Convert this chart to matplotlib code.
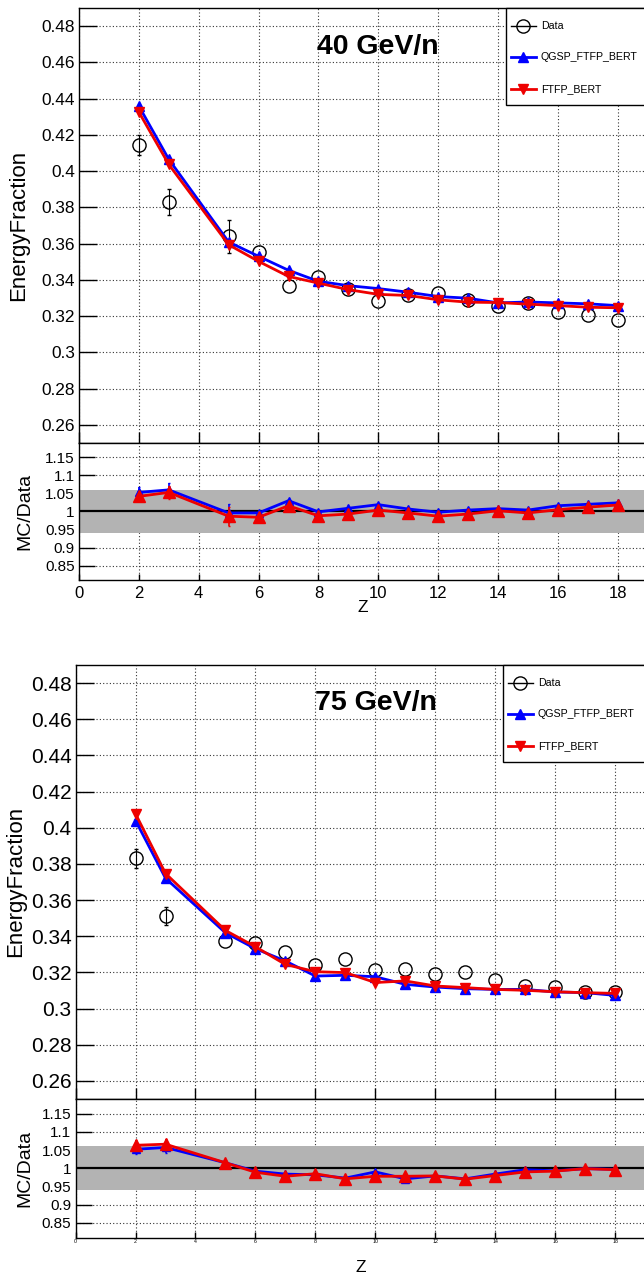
import matplotlib
matplotlib.use('Agg')
import matplotlib.pyplot as plt
from matplotlib.patches import Rectangle
import numpy as np

plt.rcParams['font.family'] = ['Liberation Sans', 'DejaVu Sans']

# ---------------- data ----------------
Z = [2, 3, 5, 6, 7, 8, 9, 10, 11, 12, 13, 14, 15, 16, 17, 18]

# 40 GeV/n
data40 = [0.4142, 0.3830, 0.3641, 0.3553, 0.3364, 0.3416, 0.3352, 0.3286, 0.3316,
          0.3326, 0.3288, 0.3255, 0.3270, 0.3225, 0.3207, 0.3181]
data40_err = [0.0055, 0.0070, 0.0092, 0.0, 0.0, 0.0, 0.0, 0.0, 0.0,
              0.0, 0.0, 0.0, 0.0, 0.0, 0.0, 0.0]
qgsp40 = [0.4359, 0.4065, 0.3609, 0.3530, 0.3453, 0.3392, 0.3368, 0.3352, 0.3332,
          0.3308, 0.3299, 0.3273, 0.3278, 0.3273, 0.3268, 0.3258]
ftfp40 = [0.4326, 0.4037, 0.3594, 0.3502, 0.3419, 0.3382, 0.3346, 0.3320, 0.3314,
          0.3290, 0.3277, 0.3275, 0.3266, 0.3258, 0.3249, 0.3246]
rq40 = [1.053, 1.060, 0.996, 0.996, 1.030, 0.999, 1.009, 1.019, 1.007,
        0.998, 1.004, 1.008, 1.004, 1.016, 1.020, 1.024]
rf40 = [1.042, 1.053, 0.987, 0.984, 1.016, 0.988, 0.993, 1.004, 0.996,
        0.987, 0.993, 1.002, 0.996, 1.005, 1.012, 1.018]
rerr40 = [0.014, 0.018, 0.026, 0.005, 0.005, 0.005, 0.005, 0.005, 0.005,
          0.005, 0.005, 0.005, 0.005, 0.005, 0.005, 0.005]

# 75 GeV/n
data75 = [0.3830, 0.3511, 0.3375, 0.3365, 0.3313, 0.3239, 0.3276, 0.3211, 0.3217,
          0.3189, 0.3202, 0.3158, 0.3125, 0.3119, 0.3092, 0.3092]
data75_err = [0.0050, 0.0050, 0.0, 0.0, 0.0, 0.0, 0.0, 0.0, 0.0,
              0.0, 0.0, 0.0, 0.0, 0.0, 0.0, 0.0]
qgsp75 = [0.4040, 0.3721, 0.3419, 0.3331, 0.3263, 0.3180, 0.3184, 0.3176, 0.3134,
          0.3119, 0.3110, 0.3106, 0.3106, 0.3092, 0.3088, 0.3073]
ftfp75 = [0.4077, 0.3747, 0.3432, 0.3342, 0.3244, 0.3204, 0.3199, 0.3144, 0.3153,
          0.3125, 0.3116, 0.3106, 0.3101, 0.3093, 0.3088, 0.3084]
rq75 = [1.052, 1.057, 1.015, 0.992, 0.984, 0.982, 0.973, 0.990, 0.971,
        0.979, 0.971, 0.984, 0.996, 0.993, 0.999, 0.997]
rf75 = [1.063, 1.066, 1.015, 0.989, 0.978, 0.985, 0.971, 0.978, 0.978,
        0.979, 0.970, 0.980, 0.990, 0.992, 0.999, 0.996]
rerr75 = [0.014, 0.015, 0.005, 0.005, 0.005, 0.005, 0.005, 0.005, 0.005,
          0.005, 0.005, 0.005, 0.005, 0.005, 0.005, 0.005]

main_yticks = [0.26, 0.28, 0.30, 0.32, 0.34, 0.36, 0.38, 0.40, 0.42, 0.44, 0.46, 0.48]
ratio_yticks = [0.85, 0.90, 0.95, 1.00, 1.05, 1.10, 1.15]
xticks = [0, 2, 4, 6, 8, 10, 12, 14, 16, 18, 20]
xticklabels = ['0', '2', '4', '6', '8', '10', '12', '14', '16', '18', '']
legend_labels = ['Data', 'QGSP_FTFP_BERT', 'FTFP_BERT']

BLUE = '#0000ff'
RED = '#ee0000'

W, H = 644, 1275
fig = plt.figure(figsize=(W / 100, H / 100), dpi=100)
overlay = fig.add_axes([0, 0, 1, 1], zorder=10)
overlay.set_xlim(0, W)
overlay.set_ylim(H, 0)
overlay.axis('off')
overlay.patch.set_alpha(0)


def fmt(v):
    return f"{v:.2f}".rstrip('0').rstrip('.')


def block(left, right, top, mid, bot, title, title_xy, data, derr, qgsp, ftfp,
          rq, rf, rerr, ylab_xy, rlab_xy, zlab_xy, leg_xy, ytick_fs, xtick_fs, xpad):
    axm = fig.add_axes([left / W, 1 - mid / H, (right - left) / W, (mid - top) / H])
    axr = fig.add_axes([left / W, 1 - bot / H, (right - left) / W, (bot - mid) / H])
    for ax in (axm, axr):
        ax.set_xlim(0, 20)
        ax.set_xticks(xticks)
        ax.grid(True, linestyle=(0, (1, 2)), color='#333333', lw=0.8)
        ax.set_axisbelow(True)
        for sp in ax.spines.values():
            sp.set_linewidth(1.0)
    axm.set_ylim(0.25, 0.49)
    axm.set_yticks(main_yticks)
    axm.set_yticklabels([fmt(v) for v in main_yticks])
    axm.tick_params(axis='y', direction='in', length=13, width=1, labelsize=ytick_fs, pad=3)
    axm.tick_params(axis='x', direction='in', length=8, width=1, labelbottom=False)

    axm.plot(Z, data, 'o', mfc='none', mec='black', ms=9.5, mew=1.0, zorder=3)
    zi = [z for z, e in zip(Z, derr) if e > 0]
    di = [d for d, e in zip(data, derr) if e > 0]
    ei = [e for e in derr if e > 0]
    axm.errorbar(zi, di, yerr=ei, fmt='none', ecolor='black', elinewidth=0.8,
                 capsize=1.5, zorder=3)
    axm.plot(Z, qgsp, '-^', color=BLUE, ms=7.5, lw=2, zorder=4)
    axm.plot(Z, ftfp, '-v', color=RED, ms=7.5, lw=2, zorder=5)

    axr.set_ylim(0.81, 1.19)
    axr.set_yticks(ratio_yticks)
    axr.set_yticklabels([fmt(v) for v in ratio_yticks])
    axr.tick_params(axis='y', direction='in', length=11.5, width=1, labelsize=11, pad=3)
    axr.tick_params(axis='x', direction='in', length=4, width=1, labelsize=xtick_fs, pad=xpad)
    axr.set_xticklabels(xticklabels)
    axr.axhspan(0.94, 1.06, color='#b3b3b3', lw=0, zorder=1)
    axr.axhline(1.0, color='black', lw=1.6, zorder=2)
    axr.errorbar(Z, rq, yerr=rerr, fmt='-^', color=BLUE, ms=6, lw=2, elinewidth=1.2,
                 capsize=1.0, zorder=4)
    axr.errorbar(Z, rf, yerr=rerr, fmt='-^', color=RED, ms=9, lw=2, elinewidth=1.2,
                 capsize=1.0, zorder=5)

    fig.text(title_xy[0] / W, 1 - title_xy[1] / H, title, ha='center', va='center',
             fontsize=20.5, fontweight='bold')
    fig.text(ylab_xy[0] / W, 1 - ylab_xy[1] / H, 'EnergyFraction', rotation=90,
             ha='center', va='center', fontsize=16)
    fig.text(rlab_xy[0] / W, 1 - rlab_xy[1] / H, 'MC/Data', rotation=90,
             ha='center', va='center', fontsize=14)
    fig.text(zlab_xy[0] / W, 1 - zlab_xy[1] / H, 'Z', ha='center', va='center', fontsize=12.5)

    # legend
    lx, ly = leg_xy
    overlay.add_patch(Rectangle((lx, ly), 220, 97, facecolor='white', edgecolor='black', lw=1.0))
    ys = [ly + 18, ly + 49, ly + 81]
    styles = [dict(color='black', lw=1, marker='o', mfc='none', mec='black', ms=9.5),
              dict(color=BLUE, lw=2, marker='^', ms=7.5),
              dict(color=RED, lw=2, marker='v', ms=7.5)]
    for yy, lab, st in zip(ys, legend_labels, styles):
        overlay.plot([lx + 5, lx + 30], [yy, yy], color=st['color'], lw=st['lw'])
        overlay.plot([lx + 17.5], [yy], linestyle='none',
                     **{k: v for k, v in st.items() if k != 'lw'})
        overlay.text(lx + 35, yy, lab, ha='left', va='center', fontsize=7.7)


block(79, 79 + 20 * 29.93, 8, 443, 580, '40 GeV/n', (378, 47),
      data40, data40_err, qgsp40, ftfp40, rq40, rf40, rerr40,
      (18.5, 225), (25, 511), (363, 608), (506, 8), 12.4, 12, 4)

block(75.6, 75.6 + 20 * 29.97, 665, 1099, 1237.5, '75 GeV/n', (376, 703),
      data75, data75_err, qgsp75, ftfp75, rq75, rf75, rerr75,
      (16, 881), (25, 1168), (361, 1267), (503, 665), 15, 3.8, 1)

fig.savefig('out.png', dpi=100)
